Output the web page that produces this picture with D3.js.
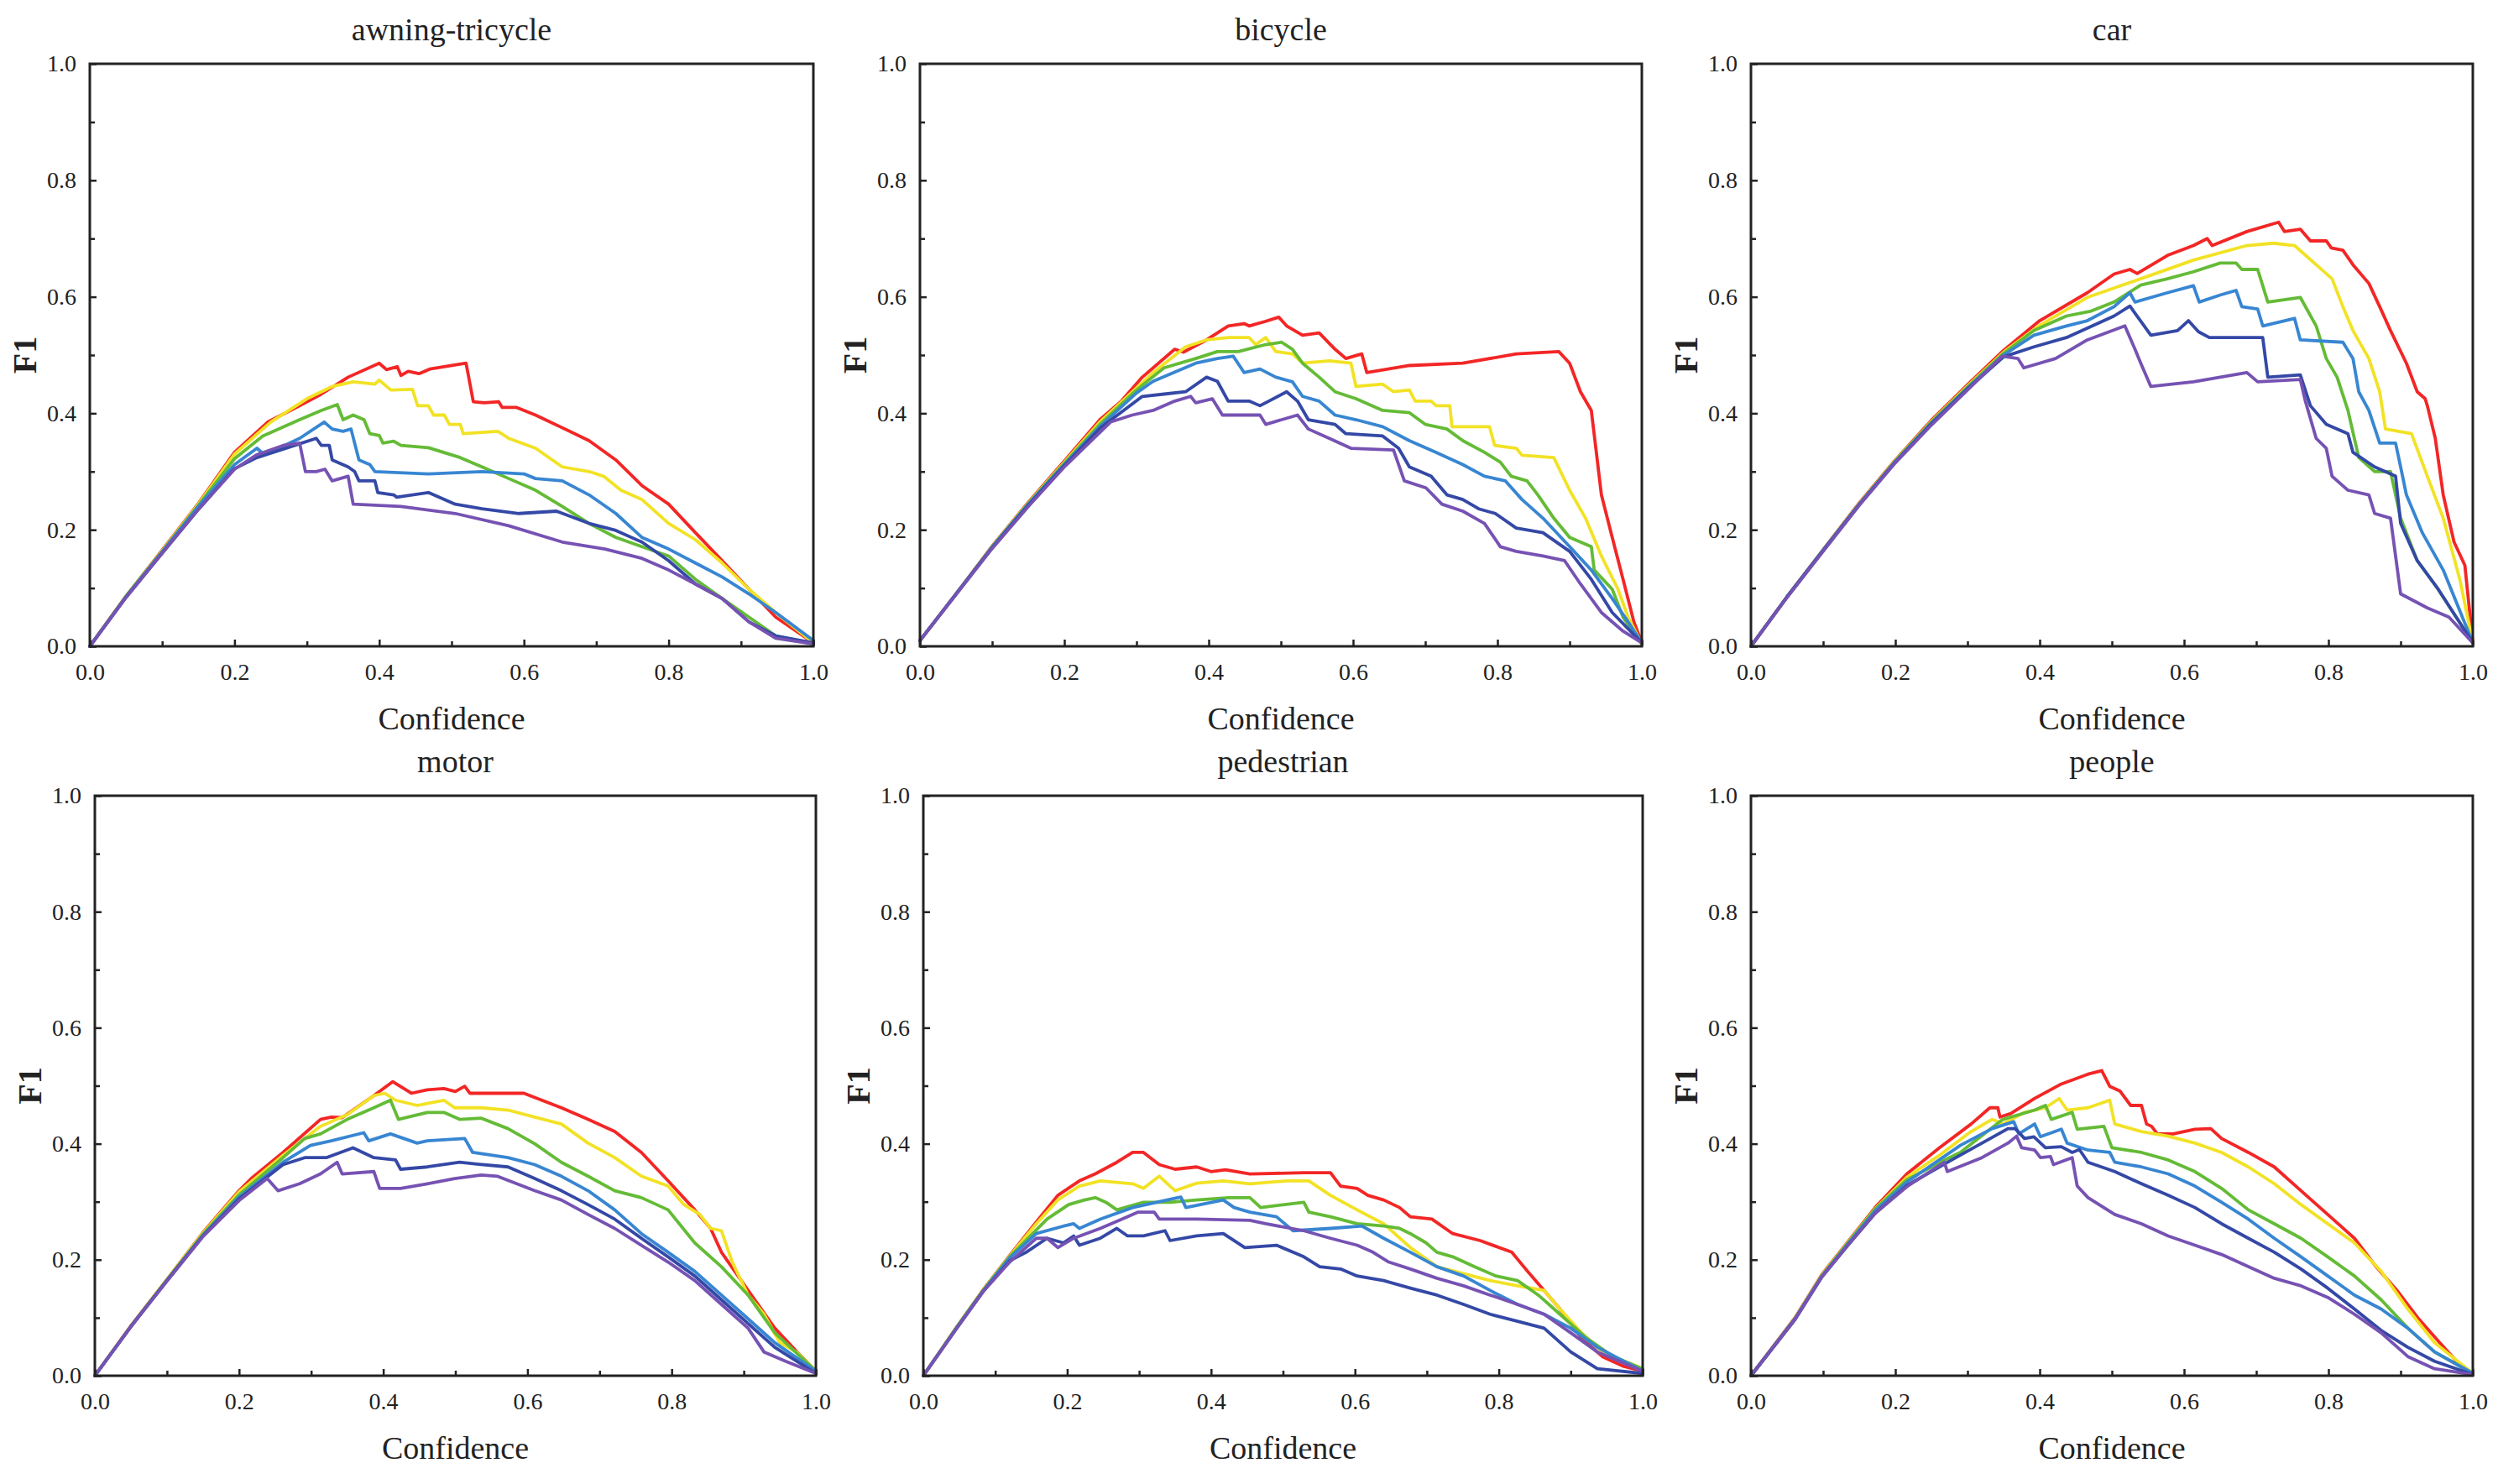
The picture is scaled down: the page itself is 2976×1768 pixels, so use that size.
<!DOCTYPE html>
<html>
<head>
<meta charset="utf-8">
<script src="https://cdn.jsdelivr.net/npm/d3@7"></script>
<style>
  html, body { margin: 0; padding: 0; background: #fff; }
  svg { display: block; }
</style>
</head>
<body>
<div id="chart"></div>
<script>
// panel titles, series colours (no legend in the source), axis ticks
const panelNames = ['awning-tricycle', 'bicycle', 'car', 'motor', 'pedestrian', 'people'];
const seriesNames = ['red', 'yellow', 'green', 'blue', 'navy', 'purple'];
const seriesColors = ['#f32626', '#f2e225', '#64bb36', '#3886d2', '#3448a6', '#7652b3'];
const majorTicks = [0, 0.2, 0.4, 0.6, 0.8, 1.0];
const minorTicks = [0.1, 0.3, 0.5, 0.7, 0.9];

// F1 vs confidence, [confidence, F1]
const awningTricycle = [
  [[0,0],[0.05,0.086],[0.1,0.165],[0.15,0.245],[0.2,0.333],[0.246,0.385],[0.29,0.413],[0.32,0.433],[0.357,0.462],[0.4,0.486],[0.41,0.475],[0.425,0.48],[0.43,0.465],[0.44,0.472],[0.455,0.468],[0.47,0.476],[0.52,0.486],[0.53,0.42],[0.545,0.418],[0.565,0.42],[0.57,0.41],[0.59,0.41],[0.616,0.397],[0.65,0.377],[0.69,0.353],[0.727,0.32],[0.763,0.276],[0.8,0.244],[0.837,0.195],[0.874,0.147],[0.911,0.098],[0.948,0.05],[1,0.006]],
  [[0,0],[0.05,0.086],[0.1,0.164],[0.15,0.244],[0.2,0.33],[0.25,0.385],[0.3,0.425],[0.335,0.446],[0.364,0.454],[0.394,0.45],[0.4,0.457],[0.416,0.44],[0.446,0.441],[0.453,0.413],[0.468,0.413],[0.475,0.397],[0.49,0.397],[0.497,0.381],[0.512,0.381],[0.516,0.365],[0.564,0.369],[0.579,0.357],[0.616,0.34],[0.653,0.308],[0.69,0.3],[0.71,0.292],[0.734,0.268],[0.763,0.252],[0.8,0.211],[0.837,0.183],[0.874,0.143],[0.911,0.098],[0.948,0.058],[1,0.006]],
  [[0,0],[0.05,0.086],[0.1,0.163],[0.15,0.242],[0.2,0.322],[0.239,0.361],[0.29,0.389],[0.32,0.405],[0.342,0.415],[0.35,0.389],[0.364,0.397],[0.379,0.389],[0.387,0.365],[0.4,0.362],[0.405,0.349],[0.42,0.352],[0.43,0.345],[0.468,0.341],[0.512,0.324],[0.542,0.308],[0.579,0.288],[0.616,0.268],[0.653,0.24],[0.69,0.211],[0.727,0.187],[0.763,0.171],[0.8,0.155],[0.837,0.115],[0.874,0.082],[0.911,0.05],[0.948,0.018],[1,0.004]],
  [[0,0],[0.05,0.085],[0.1,0.162],[0.15,0.24],[0.2,0.312],[0.231,0.34],[0.24,0.33],[0.261,0.34],[0.29,0.357],[0.324,0.385],[0.335,0.373],[0.35,0.369],[0.361,0.373],[0.372,0.32],[0.387,0.312],[0.394,0.3],[0.468,0.296],[0.542,0.3],[0.6,0.296],[0.616,0.288],[0.653,0.284],[0.69,0.26],[0.727,0.228],[0.763,0.187],[0.8,0.167],[0.837,0.143],[0.874,0.119],[0.911,0.09],[0.948,0.058],[1,0.01]],
  [[0,0],[0.05,0.084],[0.1,0.16],[0.15,0.235],[0.2,0.305],[0.231,0.324],[0.283,0.345],[0.313,0.357],[0.32,0.345],[0.331,0.345],[0.335,0.32],[0.357,0.308],[0.366,0.3],[0.372,0.284],[0.394,0.284],[0.398,0.264],[0.42,0.26],[0.424,0.256],[0.468,0.264],[0.505,0.244],[0.542,0.236],[0.593,0.228],[0.645,0.232],[0.69,0.211],[0.727,0.199],[0.763,0.179],[0.8,0.147],[0.837,0.107],[0.874,0.082],[0.911,0.042],[0.948,0.018],[1,0.006]],
  [[0,0],[0.05,0.084],[0.1,0.16],[0.15,0.235],[0.2,0.304],[0.231,0.329],[0.268,0.345],[0.29,0.349],[0.298,0.3],[0.313,0.3],[0.325,0.304],[0.335,0.284],[0.357,0.292],[0.364,0.244],[0.43,0.24],[0.505,0.228],[0.579,0.207],[0.653,0.179],[0.712,0.167],[0.763,0.151],[0.8,0.131],[0.837,0.107],[0.874,0.082],[0.911,0.042],[0.948,0.014],[1,0.004]]
];

const bicycle = [
  [[0,0.01],[0.05,0.09],[0.1,0.172],[0.15,0.247],[0.2,0.318],[0.25,0.39],[0.279,0.421],[0.308,0.462],[0.353,0.51],[0.365,0.505],[0.397,0.526],[0.427,0.55],[0.449,0.554],[0.456,0.55],[0.479,0.558],[0.497,0.565],[0.508,0.55],[0.53,0.534],[0.553,0.538],[0.575,0.51],[0.59,0.494],[0.612,0.502],[0.619,0.47],[0.678,0.482],[0.752,0.486],[0.826,0.502],[0.885,0.506],[0.9,0.486],[0.915,0.437],[0.93,0.405],[0.937,0.333],[0.944,0.26],[0.959,0.187],[0.974,0.115],[0.989,0.042],[1,0.006]],
  [[0,0.01],[0.05,0.09],[0.1,0.171],[0.15,0.246],[0.2,0.316],[0.25,0.386],[0.323,0.47],[0.368,0.514],[0.397,0.526],[0.427,0.53],[0.456,0.53],[0.465,0.518],[0.479,0.53],[0.493,0.506],[0.516,0.502],[0.53,0.486],[0.567,0.49],[0.597,0.486],[0.604,0.446],[0.641,0.45],[0.656,0.437],[0.678,0.44],[0.686,0.421],[0.708,0.421],[0.715,0.413],[0.734,0.413],[0.737,0.377],[0.789,0.377],[0.796,0.345],[0.826,0.34],[0.834,0.328],[0.878,0.324],[0.9,0.268],[0.922,0.22],[0.944,0.155],[0.967,0.098],[0.981,0.05],[1,0.004]],
  [[0,0.01],[0.05,0.09],[0.1,0.171],[0.15,0.245],[0.2,0.314],[0.25,0.382],[0.3,0.44],[0.338,0.478],[0.382,0.494],[0.412,0.506],[0.441,0.506],[0.479,0.518],[0.501,0.522],[0.516,0.51],[0.53,0.486],[0.553,0.462],[0.575,0.437],[0.604,0.425],[0.641,0.405],[0.678,0.401],[0.7,0.381],[0.73,0.373],[0.752,0.353],[0.782,0.333],[0.804,0.316],[0.819,0.292],[0.841,0.284],[0.856,0.26],[0.878,0.22],[0.9,0.187],[0.93,0.171],[0.934,0.131],[0.959,0.098],[0.974,0.05],[1,0.004]],
  [[0,0.01],[0.05,0.09],[0.1,0.17],[0.15,0.244],[0.2,0.312],[0.25,0.378],[0.3,0.435],[0.323,0.455],[0.382,0.486],[0.412,0.494],[0.434,0.498],[0.449,0.47],[0.471,0.476],[0.493,0.462],[0.516,0.454],[0.53,0.429],[0.553,0.421],[0.575,0.397],[0.604,0.389],[0.641,0.377],[0.678,0.353],[0.715,0.333],[0.752,0.312],[0.782,0.292],[0.811,0.284],[0.834,0.252],[0.863,0.22],[0.9,0.171],[0.93,0.131],[0.959,0.082],[0.981,0.042],[1,0.006]],
  [[0,0.01],[0.05,0.09],[0.1,0.169],[0.15,0.242],[0.2,0.31],[0.25,0.375],[0.308,0.429],[0.338,0.433],[0.368,0.437],[0.397,0.462],[0.412,0.455],[0.427,0.421],[0.456,0.421],[0.471,0.413],[0.508,0.437],[0.523,0.421],[0.538,0.389],[0.575,0.381],[0.59,0.365],[0.641,0.361],[0.663,0.34],[0.678,0.308],[0.708,0.292],[0.73,0.26],[0.752,0.252],[0.774,0.236],[0.797,0.228],[0.826,0.203],[0.863,0.195],[0.9,0.163],[0.93,0.115],[0.959,0.058],[1,0.006]],
  [[0,0.01],[0.05,0.089],[0.1,0.168],[0.15,0.24],[0.2,0.308],[0.264,0.385],[0.294,0.397],[0.323,0.405],[0.353,0.421],[0.375,0.429],[0.382,0.418],[0.405,0.425],[0.419,0.397],[0.471,0.397],[0.479,0.381],[0.523,0.397],[0.538,0.373],[0.567,0.357],[0.597,0.34],[0.656,0.337],[0.671,0.284],[0.701,0.272],[0.723,0.244],[0.752,0.232],[0.782,0.211],[0.804,0.171],[0.826,0.163],[0.863,0.155],[0.893,0.147],[0.915,0.107],[0.944,0.058],[0.974,0.026],[1,0.006]]
];

const car = [
  [[0,0],[0.05,0.085],[0.1,0.166],[0.15,0.246],[0.2,0.32],[0.25,0.388],[0.3,0.449],[0.35,0.508],[0.4,0.559],[0.466,0.607],[0.503,0.639],[0.525,0.647],[0.535,0.64],[0.577,0.671],[0.613,0.688],[0.632,0.7],[0.639,0.688],[0.687,0.712],[0.731,0.728],[0.739,0.712],[0.761,0.716],[0.775,0.696],[0.797,0.696],[0.804,0.684],[0.82,0.68],[0.834,0.655],[0.856,0.623],[0.871,0.583],[0.886,0.542],[0.908,0.486],[0.923,0.437],[0.934,0.425],[0.937,0.413],[0.948,0.357],[0.959,0.26],[0.974,0.179],[0.989,0.139],[1,0.006]],
  [[0,0],[0.05,0.085],[0.1,0.165],[0.15,0.245],[0.2,0.319],[0.25,0.386],[0.3,0.447],[0.35,0.505],[0.4,0.551],[0.466,0.599],[0.54,0.631],[0.613,0.663],[0.687,0.688],[0.724,0.692],[0.753,0.688],[0.783,0.655],[0.805,0.631],[0.82,0.583],[0.834,0.542],[0.856,0.494],[0.871,0.437],[0.879,0.373],[0.915,0.365],[0.937,0.292],[0.959,0.22],[0.982,0.115],[1,0.006]],
  [[0,0],[0.05,0.085],[0.1,0.165],[0.15,0.244],[0.2,0.318],[0.25,0.385],[0.3,0.445],[0.35,0.503],[0.392,0.542],[0.437,0.567],[0.47,0.575],[0.503,0.591],[0.54,0.62],[0.577,0.631],[0.613,0.643],[0.65,0.658],[0.672,0.658],[0.68,0.647],[0.702,0.647],[0.716,0.591],[0.761,0.599],[0.783,0.55],[0.797,0.494],[0.812,0.462],[0.827,0.405],[0.842,0.324],[0.864,0.3],[0.886,0.3],[0.9,0.22],[0.923,0.147],[0.952,0.098],[1,0.006]],
  [[0,0],[0.05,0.085],[0.1,0.165],[0.15,0.244],[0.2,0.317],[0.25,0.383],[0.3,0.443],[0.35,0.5],[0.392,0.534],[0.437,0.55],[0.466,0.559],[0.503,0.583],[0.525,0.607],[0.532,0.591],[0.577,0.607],[0.613,0.619],[0.621,0.591],[0.65,0.603],[0.672,0.611],[0.68,0.583],[0.702,0.579],[0.709,0.55],[0.753,0.563],[0.761,0.526],[0.82,0.522],[0.834,0.494],[0.842,0.437],[0.856,0.405],[0.871,0.349],[0.893,0.349],[0.9,0.308],[0.908,0.26],[0.93,0.195],[0.959,0.131],[1,0.006]],
  [[0,0],[0.05,0.085],[0.1,0.164],[0.15,0.243],[0.2,0.316],[0.25,0.382],[0.3,0.442],[0.35,0.497],[0.392,0.514],[0.437,0.53],[0.503,0.567],[0.525,0.584],[0.554,0.534],[0.591,0.542],[0.606,0.559],[0.62,0.54],[0.635,0.53],[0.687,0.53],[0.709,0.53],[0.716,0.462],[0.761,0.466],[0.775,0.413],[0.797,0.381],[0.827,0.365],[0.834,0.333],[0.864,0.308],[0.893,0.292],[0.9,0.211],[0.923,0.147],[0.952,0.098],[1,0.006]],
  [[0,0],[0.05,0.084],[0.1,0.163],[0.15,0.242],[0.2,0.315],[0.25,0.38],[0.3,0.44],[0.348,0.498],[0.37,0.494],[0.378,0.478],[0.422,0.494],[0.466,0.526],[0.518,0.55],[0.532,0.51],[0.54,0.486],[0.554,0.446],[0.613,0.454],[0.687,0.47],[0.702,0.454],[0.761,0.458],[0.768,0.421],[0.783,0.357],[0.797,0.34],[0.805,0.292],[0.827,0.268],[0.856,0.26],[0.864,0.228],[0.886,0.22],[0.9,0.09],[0.937,0.066],[0.967,0.05],[1,0.006]]
];

const motor = [
  [[0,0],[0.05,0.086],[0.1,0.166],[0.15,0.247],[0.2,0.319],[0.217,0.34],[0.261,0.385],[0.313,0.442],[0.328,0.446],[0.343,0.445],[0.387,0.483],[0.413,0.507],[0.439,0.487],[0.461,0.493],[0.484,0.495],[0.5,0.49],[0.513,0.499],[0.52,0.487],[0.55,0.487],[0.595,0.487],[0.647,0.462],[0.684,0.442],[0.721,0.421],[0.758,0.385],[0.795,0.336],[0.832,0.286],[0.854,0.254],[0.869,0.213],[0.906,0.147],[0.943,0.082],[0.98,0.033],[1,0.008]],
  [[0,0],[0.05,0.086],[0.1,0.166],[0.15,0.246],[0.2,0.317],[0.261,0.38],[0.313,0.43],[0.35,0.45],[0.387,0.483],[0.402,0.487],[0.417,0.475],[0.447,0.466],[0.484,0.475],[0.499,0.462],[0.536,0.462],[0.573,0.458],[0.61,0.446],[0.647,0.434],[0.684,0.401],[0.721,0.376],[0.758,0.344],[0.795,0.327],[0.817,0.295],[0.839,0.278],[0.854,0.254],[0.869,0.25],[0.884,0.196],[0.906,0.139],[0.928,0.106],[0.95,0.057],[0.973,0.041],[1,0.008]],
  [[0,0],[0.05,0.085],[0.1,0.165],[0.15,0.244],[0.2,0.312],[0.261,0.376],[0.291,0.409],[0.313,0.417],[0.35,0.442],[0.387,0.462],[0.41,0.475],[0.421,0.442],[0.461,0.454],[0.484,0.454],[0.506,0.442],[0.536,0.444],[0.573,0.426],[0.61,0.4],[0.647,0.368],[0.684,0.344],[0.721,0.319],[0.758,0.307],[0.795,0.286],[0.832,0.229],[0.869,0.188],[0.906,0.139],[0.943,0.074],[1,0.008]],
  [[0,0],[0.05,0.085],[0.1,0.164],[0.15,0.242],[0.2,0.308],[0.261,0.368],[0.299,0.397],[0.328,0.405],[0.373,0.419],[0.38,0.405],[0.41,0.417],[0.447,0.401],[0.461,0.405],[0.513,0.409],[0.524,0.385],[0.573,0.376],[0.61,0.364],[0.647,0.344],[0.684,0.319],[0.721,0.286],[0.758,0.245],[0.795,0.213],[0.832,0.18],[0.869,0.139],[0.906,0.098],[0.943,0.057],[1,0.008]],
  [[0,0],[0.05,0.085],[0.1,0.164],[0.15,0.241],[0.2,0.305],[0.261,0.364],[0.291,0.376],[0.321,0.376],[0.358,0.393],[0.387,0.376],[0.417,0.372],[0.424,0.356],[0.461,0.36],[0.506,0.368],[0.53,0.365],[0.573,0.36],[0.61,0.34],[0.647,0.319],[0.684,0.295],[0.721,0.27],[0.758,0.237],[0.795,0.205],[0.832,0.172],[0.869,0.131],[0.906,0.09],[0.943,0.049],[1,0.004]],
  [[0,0],[0.05,0.085],[0.1,0.163],[0.15,0.24],[0.2,0.302],[0.239,0.34],[0.254,0.319],[0.284,0.331],[0.313,0.348],[0.336,0.368],[0.343,0.348],[0.387,0.352],[0.395,0.323],[0.424,0.323],[0.461,0.331],[0.499,0.34],[0.536,0.346],[0.558,0.344],[0.61,0.319],[0.647,0.303],[0.684,0.278],[0.721,0.254],[0.758,0.225],[0.795,0.196],[0.832,0.164],[0.869,0.123],[0.906,0.082],[0.928,0.041],[0.958,0.025],[1,0.004]]
];

const pedestrian = [
  [[0,0],[0.046,0.083],[0.083,0.148],[0.12,0.207],[0.157,0.265],[0.187,0.311],[0.217,0.336],[0.239,0.348],[0.269,0.368],[0.291,0.385],[0.306,0.385],[0.328,0.364],[0.35,0.356],[0.38,0.36],[0.4,0.352],[0.42,0.355],[0.454,0.348],[0.529,0.35],[0.566,0.35],[0.58,0.327],[0.603,0.323],[0.618,0.311],[0.64,0.303],[0.662,0.29],[0.677,0.274],[0.707,0.27],[0.736,0.245],[0.774,0.233],[0.818,0.213],[0.84,0.18],[0.863,0.147],[0.885,0.115],[0.915,0.065],[0.944,0.033],[0.974,0.016],[1,0.008]],
  [[0,0],[0.046,0.083],[0.083,0.148],[0.12,0.206],[0.157,0.262],[0.187,0.303],[0.217,0.327],[0.246,0.336],[0.291,0.331],[0.306,0.323],[0.328,0.344],[0.35,0.319],[0.38,0.332],[0.417,0.336],[0.454,0.331],[0.506,0.336],[0.536,0.336],[0.566,0.311],[0.603,0.286],[0.64,0.262],[0.677,0.221],[0.714,0.188],[0.751,0.176],[0.788,0.164],[0.826,0.155],[0.863,0.147],[0.885,0.115],[0.915,0.074],[0.944,0.041],[1,0.012]],
  [[0,0],[0.046,0.083],[0.083,0.147],[0.12,0.205],[0.172,0.27],[0.202,0.295],[0.224,0.303],[0.239,0.307],[0.254,0.299],[0.269,0.286],[0.306,0.299],[0.343,0.299],[0.38,0.303],[0.425,0.307],[0.454,0.307],[0.469,0.29],[0.529,0.299],[0.536,0.282],[0.566,0.274],[0.603,0.262],[0.64,0.258],[0.662,0.254],[0.677,0.245],[0.699,0.229],[0.714,0.213],[0.736,0.205],[0.766,0.188],[0.796,0.172],[0.826,0.164],[0.855,0.139],[0.885,0.106],[0.922,0.065],[0.959,0.033],[1,0.012]],
  [[0,0],[0.046,0.082],[0.083,0.146],[0.12,0.203],[0.157,0.245],[0.195,0.258],[0.209,0.262],[0.217,0.254],[0.246,0.27],[0.291,0.29],[0.343,0.304],[0.358,0.308],[0.365,0.29],[0.417,0.303],[0.432,0.29],[0.454,0.282],[0.491,0.274],[0.514,0.25],[0.566,0.254],[0.61,0.258],[0.64,0.237],[0.677,0.213],[0.714,0.188],[0.751,0.172],[0.788,0.147],[0.826,0.123],[0.863,0.106],[0.9,0.082],[0.937,0.049],[1,0.008]],
  [[0,0],[0.046,0.081],[0.083,0.145],[0.12,0.198],[0.143,0.213],[0.172,0.237],[0.195,0.229],[0.209,0.241],[0.217,0.225],[0.246,0.237],[0.269,0.254],[0.284,0.241],[0.306,0.241],[0.336,0.25],[0.343,0.233],[0.38,0.241],[0.417,0.245],[0.447,0.221],[0.491,0.225],[0.529,0.205],[0.551,0.188],[0.58,0.184],[0.603,0.172],[0.64,0.164],[0.677,0.151],[0.714,0.139],[0.751,0.123],[0.788,0.106],[0.826,0.094],[0.863,0.082],[0.9,0.041],[0.937,0.012],[1,0.004]],
  [[0,0],[0.046,0.081],[0.083,0.145],[0.12,0.196],[0.157,0.237],[0.172,0.237],[0.187,0.221],[0.209,0.237],[0.246,0.254],[0.276,0.27],[0.298,0.282],[0.321,0.282],[0.328,0.27],[0.38,0.27],[0.454,0.268],[0.476,0.262],[0.529,0.25],[0.566,0.237],[0.603,0.225],[0.625,0.213],[0.647,0.196],[0.677,0.184],[0.714,0.168],[0.751,0.155],[0.788,0.139],[0.826,0.123],[0.863,0.106],[0.9,0.074],[0.937,0.041],[1,0.008]]
];

const people = [
  [[0,0],[0.061,0.1],[0.098,0.174],[0.135,0.232],[0.172,0.29],[0.216,0.348],[0.261,0.393],[0.305,0.434],[0.331,0.462],[0.342,0.462],[0.345,0.446],[0.36,0.452],[0.393,0.478],[0.43,0.503],[0.467,0.52],[0.486,0.526],[0.497,0.499],[0.511,0.491],[0.526,0.466],[0.541,0.466],[0.548,0.434],[0.555,0.43],[0.563,0.417],[0.585,0.417],[0.615,0.425],[0.637,0.426],[0.652,0.409],[0.689,0.385],[0.725,0.36],[0.762,0.319],[0.799,0.278],[0.836,0.237],[0.866,0.188],[0.895,0.147],[0.925,0.098],[0.954,0.057],[0.984,0.016],[1,0.004]],
  [[0,0],[0.061,0.099],[0.098,0.173],[0.135,0.231],[0.172,0.288],[0.216,0.342],[0.261,0.38],[0.305,0.421],[0.334,0.442],[0.349,0.434],[0.379,0.454],[0.408,0.462],[0.427,0.478],[0.438,0.458],[0.467,0.462],[0.497,0.475],[0.504,0.434],[0.541,0.421],[0.578,0.413],[0.615,0.401],[0.652,0.385],[0.689,0.36],[0.725,0.331],[0.762,0.295],[0.799,0.262],[0.836,0.229],[0.873,0.18],[0.91,0.115],[0.947,0.057],[1,0.004]],
  [[0,0],[0.061,0.098],[0.098,0.172],[0.135,0.23],[0.172,0.287],[0.216,0.338],[0.275,0.376],[0.29,0.385],[0.349,0.442],[0.393,0.458],[0.408,0.466],[0.416,0.442],[0.445,0.454],[0.452,0.425],[0.489,0.43],[0.5,0.393],[0.541,0.385],[0.578,0.372],[0.615,0.352],[0.652,0.323],[0.689,0.286],[0.725,0.262],[0.762,0.237],[0.799,0.205],[0.836,0.172],[0.873,0.131],[0.91,0.082],[0.947,0.041],[1,0.004]],
  [[0,0],[0.061,0.098],[0.098,0.171],[0.135,0.228],[0.172,0.284],[0.216,0.334],[0.29,0.397],[0.334,0.426],[0.364,0.438],[0.371,0.417],[0.393,0.434],[0.401,0.412],[0.43,0.425],[0.438,0.401],[0.467,0.389],[0.497,0.385],[0.504,0.368],[0.541,0.36],[0.578,0.348],[0.615,0.327],[0.652,0.299],[0.689,0.27],[0.725,0.237],[0.762,0.205],[0.799,0.172],[0.836,0.139],[0.873,0.115],[0.91,0.082],[0.947,0.041],[1,0.004]],
  [[0,0],[0.061,0.097],[0.098,0.17],[0.135,0.226],[0.172,0.28],[0.216,0.328],[0.275,0.37],[0.32,0.401],[0.356,0.426],[0.366,0.426],[0.379,0.409],[0.392,0.412],[0.408,0.393],[0.43,0.395],[0.445,0.385],[0.455,0.39],[0.467,0.368],[0.504,0.352],[0.541,0.331],[0.578,0.311],[0.615,0.29],[0.652,0.262],[0.689,0.237],[0.725,0.213],[0.762,0.184],[0.799,0.151],[0.836,0.115],[0.873,0.078],[0.91,0.049],[0.947,0.025],[1,0.002]],
  [[0,0],[0.061,0.097],[0.098,0.17],[0.135,0.226],[0.172,0.28],[0.216,0.326],[0.268,0.368],[0.272,0.352],[0.32,0.376],[0.356,0.401],[0.368,0.413],[0.375,0.393],[0.393,0.389],[0.401,0.376],[0.415,0.378],[0.419,0.364],[0.445,0.376],[0.452,0.327],[0.467,0.307],[0.504,0.278],[0.541,0.262],[0.578,0.241],[0.615,0.225],[0.652,0.209],[0.689,0.188],[0.725,0.168],[0.762,0.155],[0.799,0.135],[0.836,0.106],[0.873,0.074],[0.91,0.033],[0.947,0.012],[1,0.002]]
];

const panelData = [awningTricycle, bicycle, car, motor, pedestrian, people];

const width = 2976;
const height = 1768;
const font = '"Liberation Serif", "Times New Roman", serif';
const ink = '#222';

// frame boxes: [left, top, right, bottom]
const frames = [
  [107, 76, 969, 770], [1096, 76, 1956, 770], [2086, 76, 2946, 770],
  [113, 948, 972, 1639], [1100, 948, 1957, 1639], [2086, 948, 2946, 1639]
];

const svg = d3.select('#chart').append('svg')
  .attr('width', width)
  .attr('height', height)
  .attr('viewBox', `0 0 ${width} ${height}`)
  .style('background', '#fff');

const fmt = d3.format('.1f');
const line = d3.line();

function styleAxis(sel) {
  sel.attr('font-family', font).attr('font-size', 28);
  sel.select('.domain').remove();
  sel.selectAll('.tick line').attr('stroke', ink).attr('stroke-width', 2.5);
  sel.selectAll('.tick text').attr('fill', ink);
}

panelNames.forEach((name, i) => {
  const [l, t, r, b] = frames[i];
  const w = r - l, h = b - t;
  const g = svg.append('g').attr('transform', `translate(${l},${t})`);

  const x = d3.scaleLinear().domain([0, 1]).range([0, w]);
  const y = d3.scaleLinear().domain([0, 1]).range([h, 0]);

  // curves, red first so purple ends on top
  panelData[i].forEach((pts, s) => {
    g.append('path')
      .datum(pts)
      .attr('class', 'series-' + seriesNames[s])
      .attr('fill', 'none')
      .attr('stroke', seriesColors[s])
      .attr('stroke-width', 3.8)
      .attr('stroke-linejoin', 'round')
      .attr('stroke-linecap', 'round')
      .attr('d', line.x(d => x(d[0])).y(d => y(d[1])));
  });

  // inward ticks, majors labelled
  g.append('g')
    .attr('transform', `translate(0,${h})`)
    .call(d3.axisBottom(x).tickValues(majorTicks).tickFormat(fmt).tickSize(-8).tickPadding(20))
    .call(styleAxis);
  g.append('g')
    .attr('transform', `translate(0,${h})`)
    .call(d3.axisBottom(x).tickValues(minorTicks).tickFormat('').tickSize(-6))
    .call(styleAxis);
  g.append('g')
    .call(d3.axisLeft(y).tickValues(majorTicks).tickFormat(fmt).tickSize(-8).tickPadding(16))
    .call(styleAxis);
  g.append('g')
    .call(d3.axisLeft(y).tickValues(minorTicks).tickFormat('').tickSize(-6))
    .call(styleAxis);

  g.append('rect')
    .attr('width', w)
    .attr('height', h)
    .attr('fill', 'none')
    .attr('stroke', ink)
    .attr('stroke-width', 3);

  // titles
  g.append('text')
    .attr('x', w / 2)
    .attr('y', -28)
    .attr('text-anchor', 'middle')
    .attr('fill', ink)
    .attr('font-family', font)
    .attr('font-size', 38)
    .text(name);

  g.append('text')
    .attr('x', w / 2)
    .attr('y', h + 99)
    .attr('text-anchor', 'middle')
    .attr('fill', ink)
    .attr('font-family', font)
    .attr('font-size', 38)
    .text('Confidence');

  g.append('text')
    .attr('transform', `translate(${-78},${h / 2}) rotate(-90)`)
    .attr('text-anchor', 'middle')
    .attr('dominant-baseline', 'central')
    .attr('fill', ink)
    .attr('font-family', font)
    .attr('font-size', 40)
    .attr('font-weight', 'bold')
    .text('F1');
});
</script>
</body>
</html>
